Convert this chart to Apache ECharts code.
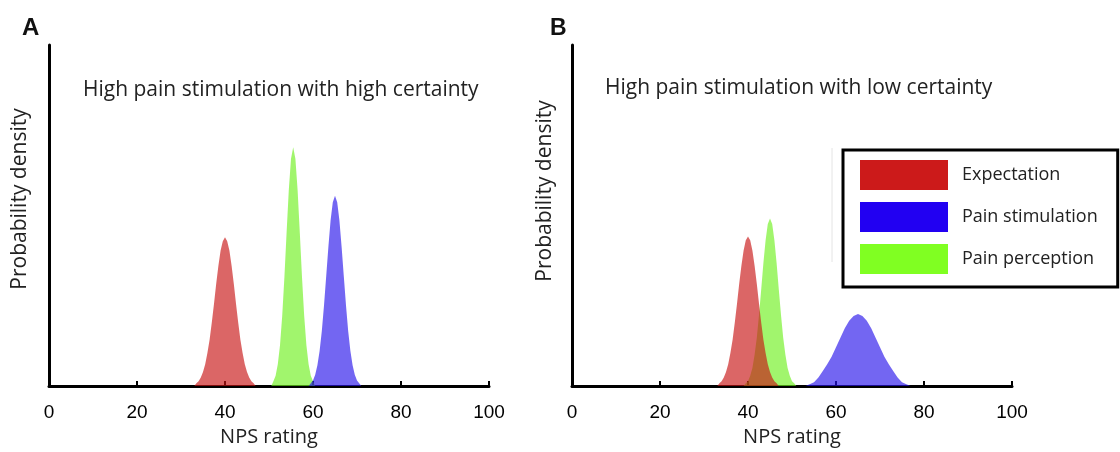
<!DOCTYPE html>
<html>
<head>
<meta charset="utf-8">
<script src="https://cdn.jsdelivr.net/npm/echarts@6/dist/echarts.min.js"></script>
<style>
html,body{margin:0;padding:0;background:#fff;}
#chart{width:1120px;height:452px;}
</style>
</head>
<body>
<div id="chart"></div>
<script>
// ---- Data ----
const seriesNames = ['Expectation', 'Pain stimulation', 'Pain perception'];
const panelTitles = ['High pain stimulation with high certainty', 'High pain stimulation with low certainty'];
const panelLetters = ['A', 'B'];
const xAxisName = 'NPS rating';
const yAxisName = 'Probability density';
const xTickValues = [0, 20, 40, 60, 80, 100];

// Panel A
const expA_x = [33,33.5,34,34.5,35,35.5,36,36.5,37,37.5,38,38.5,39,39.5,40,40.5,41,41.5,42,42.5,43,43.5,44,44.5,45,45.5,46,46.5,47];
const expA_y = [0,.003,.005,.009,.015,.023,.035,.049,.067,.087,.108,.127,.143,.153,.157,.153,.143,.127,.108,.087,.067,.049,.035,.023,.015,.009,.005,.003,0];
const stimA_x = [59,59.5,60,60.5,61,61.5,62,62.5,63,63.5,64,64.5,65,65.5,66,66.5,67,67.5,68,68.5,69,69.5,70,70.5,71];
const stimA_y = [0,.003,.006,.012,.022,.037,.058,.085,.116,.147,.175,.194,.201,.194,.175,.147,.116,.085,.058,.037,.022,.012,.006,.003,0];
const percA_x = [50.5,51,51.5,52,52.5,53,53.5,54,54.5,55,55.5,56,56.5,57,57.5,58,58.5,59,59.5,60,60.5];
const percA_y = [0,.005,.011,.023,.043,.074,.115,.162,.207,.240,.252,.240,.207,.162,.115,.074,.043,.023,.011,.005,0];

// Panel B
const expB_x = [33,33.5,34,34.5,35,35.5,36,36.5,37,37.5,38,38.5,39,39.5,40,40.5,41,41.5,42,42.5,43,43.5,44,44.5,45,45.5,46,46.5,47];
const expB_y = [0,.003,.005,.009,.015,.023,.035,.049,.067,.087,.108,.127,.143,.154,.158,.154,.143,.127,.108,.087,.067,.049,.035,.023,.015,.009,.005,.003,0];
const stimB_x = [53,54,55,56,57,58,59,60,61,62,63,64,65,66,67,68,69,70,71,72,73,74,75,76,77];
const stimB_y = [0,.002,.004,.009,.016,.023,.031,.041,.051,.061,.069,.074,.076,.074,.069,.061,.051,.041,.031,.023,.016,.009,.004,.002,0];
const percB_x = [39,39.5,40,40.5,41,41.5,42,42.5,43,43.5,44,44.5,45,45.5,46,46.5,47,47.5,48,48.5,49,49.5,50,50.5,51];
const percB_y = [0,.003,.005,.011,.019,.033,.051,.075,.102,.130,.154,.171,.177,.171,.154,.130,.102,.075,.051,.033,.019,.011,.005,.003,0];

// ---- Styling ----
const fillColors = {
  'Expectation': 'rgba(200,20,20,0.65)',
  'Pain stimulation': 'rgba(40,20,235,0.65)',
  'Pain perception': 'rgba(110,240,30,0.65)'
};
const legendColors = {
  'Expectation': '#cc1a1a',
  'Pain stimulation': '#2200f2',
  'Pain perception': '#80ff22'
};
const zip = (xs, ys) => xs.map((x, i) => [x, ys[i]]);
const textFont = '"Open Sans"';

function areaSeries(name, xs, ys, idx) {
  return {
    type: 'line', name: name, xAxisIndex: idx, yAxisIndex: idx,
    data: zip(xs, ys), showSymbol: false, symbol: 'none', smooth: false,
    lineStyle: { width: 0, color: legendColors[name] },
    itemStyle: { color: legendColors[name] },
    areaStyle: { color: fillColors[name], opacity: 1 },
    silent: true, animation: false
  };
}

const grids = [
  { left: 49, top: 45, width: 440, height: 344 },
  { left: 572, top: 45, width: 440, height: 344 }
];

function xAx(i) {
  return {
    type: 'value', gridIndex: i, min: 0, max: 100, interval: 20,
    name: xAxisName, nameLocation: 'middle', nameGap: 33,
    nameTextStyle: { fontFamily: 'Open Sans', fontSize: 20, color: '#222' },
    axisLine: { lineStyle: { color: '#000', width: 3 } },
    axisTick: { show: true, inside: true, length: 5, lineStyle: { color: '#000', width: 2 } },
    axisLabel: { fontFamily: 'Liberation Sans', fontSize: 19, color: '#000', margin: 17 },
    splitLine: { show: false }
  };
}
function yAx(i) {
  return {
    type: 'value', gridIndex: i, min: 0, max: 0.36,
    axisLine: { show: true, onZero: false, lineStyle: { color: '#000', width: 3 } },
    axisTick: { show: false }, axisLabel: { show: false }, splitLine: { show: false }
  };
}

const graphics = [
  { type: 'text', left: 22, top: 16, style: { text: panelLetters[0], font: 'bold 24px "Liberation Sans"', fill: '#111' } },
  { type: 'text', left: 550, top: 17, style: { text: panelLetters[1], font: 'bold 23px "Liberation Sans"', fill: '#111' } },
  { type: 'text', x: 83, y: 90, style: { text: panelTitles[0], font: '21px ' + textFont, fill: '#222', textVerticalAlign: 'middle', textAlign: 'left' } },
  { type: 'text', x: 605, y: 88, style: { text: panelTitles[1], font: '21px ' + textFont, fill: '#222', textVerticalAlign: 'middle', textAlign: 'left' } },
  { type: 'text', x: 20, y: 199, rotation: Math.PI / 2, style: { text: yAxisName, font: '21px ' + textFont, fill: '#222', textAlign: 'center', textVerticalAlign: 'middle' } },
  { type: 'text', x: 545, y: 191, rotation: Math.PI / 2, style: { text: yAxisName, font: '21px ' + textFont, fill: '#222', textAlign: 'center', textVerticalAlign: 'middle' } },
  { type: 'line', shape: { x1: 832, y1: 148, x2: 832, y2: 262 }, style: { stroke: '#e4e4e4', lineWidth: 1 } }
];

const chart = echarts.init(document.getElementById('chart'), null, { renderer: 'canvas' });
chart.setOption({
  backgroundColor: '#fff',
  animation: false,
  grid: grids,
  xAxis: [xAx(0), xAx(1)],
  yAxis: [yAx(0), yAx(1)],
  legend: {
    left: 843, top: 150, orient: 'vertical',
    icon: 'rect', itemWidth: 88, itemHeight: 30, itemGap: 12,
    padding: [10, 20, 13, 17],
    borderColor: '#000', borderWidth: 3, backgroundColor: '#fff',
    textStyle: { fontFamily: 'Open Sans', fontSize: 18, color: '#222', padding: [0, 0, 0, 9] },
    selectedMode: false,
    data: seriesNames.map(n => ({ name: n, icon: 'rect', itemStyle: { color: legendColors[n] } }))
  },
  graphic: graphics,
  series: [
    areaSeries('Pain perception', percA_x, percA_y, 0),
    areaSeries('Expectation', expA_x, expA_y, 0),
    areaSeries('Pain stimulation', stimA_x, stimA_y, 0),
    areaSeries('Pain perception', percB_x, percB_y, 1),
    areaSeries('Pain stimulation', stimB_x, stimB_y, 1),
    areaSeries('Expectation', expB_x, expB_y, 1)
  ]
});
</script>
</body>
</html>
